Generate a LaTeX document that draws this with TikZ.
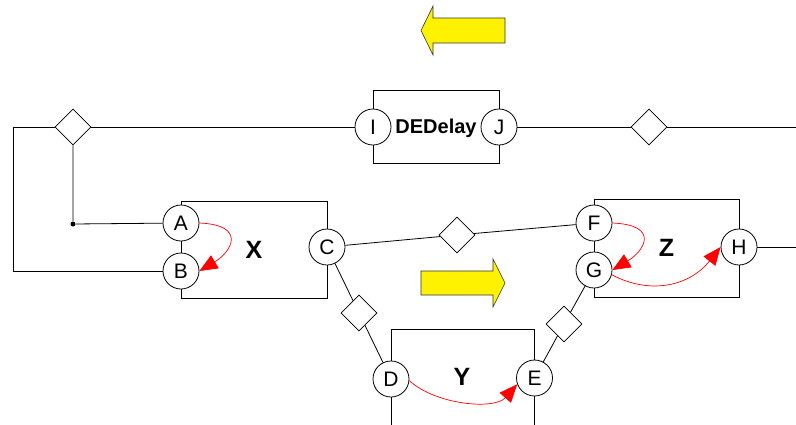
\documentclass[tikz,border=0pt]{standalone}
\usepackage{fontspec}
\setmainfont{Liberation Sans}
\usetikzlibrary{arrows.meta,shapes.geometric}

\begin{document}
\begin{tikzpicture}[x=1pt,y=-1pt,line width=0.8pt,
  >={Triangle[length=18pt,width=15pt]},
  every node/.style={font=\fontsize{21}{25}\selectfont},
  port/.style={circle,draw,fill=white,minimum size=36pt,inner sep=0pt},
  junc/.style={diamond,draw,fill=white,minimum size=36pt,inner sep=0pt},
  blk/.style={draw,inner sep=0pt,font=\fontsize{25}{29}\selectfont\bfseries},
  flow/.style={->,red,line width=0.7pt},
  fat/.style={fill=yellow,draw=black!80,line width=0.6pt}]
  \useasboundingbox (0,0) rectangle (796,424);
  \clip (0,0) rectangle (796,424);

  % direction arrows
  \filldraw[fat] (505,18) -- (433,18) -- (433,6) -- (421,30.5) -- (433,55)
    -- (433,43) -- (505,43) -- cycle;
  \filldraw[fat] (421,271) -- (493,271) -- (493,259) -- (505,283) -- (493,307)
    -- (493,295) -- (421,295) -- cycle;

  % blocks
  \node[blk,minimum width=126pt,minimum height=73pt,text depth=0pt,
    font=\fontsize{20}{24}\selectfont\bfseries] (delay) at (436,126.5) {DEDelay};
  \node[blk,minimum width=146pt,minimum height=97pt] (X) at (254,249.5) {X};
  \node[blk,minimum width=145pt,minimum height=98pt] (Z) at (666.5,248) {Z};
  \draw (391,430) |- (534.5,329) -- (534.5,430);
  \node[font=\fontsize{25}{29}\selectfont\bfseries] (Y) at (462,377) {Y};

  % ports
  \node[port] (I) at (373,127) {I};
  \node[port] (J) at (499,127) {J};
  \node[port] (A) at (181,223) {A};
  \node[port] (B) at (181,271) {B};
  \node[port] (C) at (327,247) {C};
  \node[port] (D) at (391,379) {D};
  \node[port] (E) at (534.5,378) {E};
  \node[port] (F) at (594,223) {F};
  \node[port] (G) at (594,270) {G};
  \node[port] (H) at (739,247) {H};

  % relations
  \node[junc] (jl) at (73,127) {};
  \node[junc] (jr) at (649,127) {};
  \node[junc] (jcf) at (457,235) {};
  \node[junc] (jcd) at (359,313) {};
  \node[junc] (jeg) at (564,324) {};
  \node[circle,fill,inner sep=0pt,minimum size=5pt] (tap) at (73,224) {};

  \coordinate (lt) at (13,127);
  \coordinate (lb) at (13,271);
  \coordinate (rt) at (796,127);
  \coordinate (rh) at (796,247);

  % wires
  \draw (lt) -- (jl) -- (I);
  \draw (J) -- (jr) -- (rt);
  \draw (jl) -- (tap) -- (A);
  \draw (lt) -- (lb) -- (B);
  \draw (C) -- (jcf) -- (F);
  \draw (C) -- (jcd) -- (D);
  \draw (E) -- (jeg) -- (G);
  \draw (H) -- (rh);

  % dependencies
  \draw[flow] (A.east) .. controls +(48,2) and +(32,-19) .. (B.east);
  \draw[flow] (F.east) .. controls +(48,2) and +(32,-19) .. (G.east);
  \draw[flow] (G.-15) .. controls +(40,21) and +(-30,38) .. (H.west);
  \draw[flow] (D.-5) .. controls +(26,24) and +(-23,26) .. (E.200);
\end{tikzpicture}
\end{document}
